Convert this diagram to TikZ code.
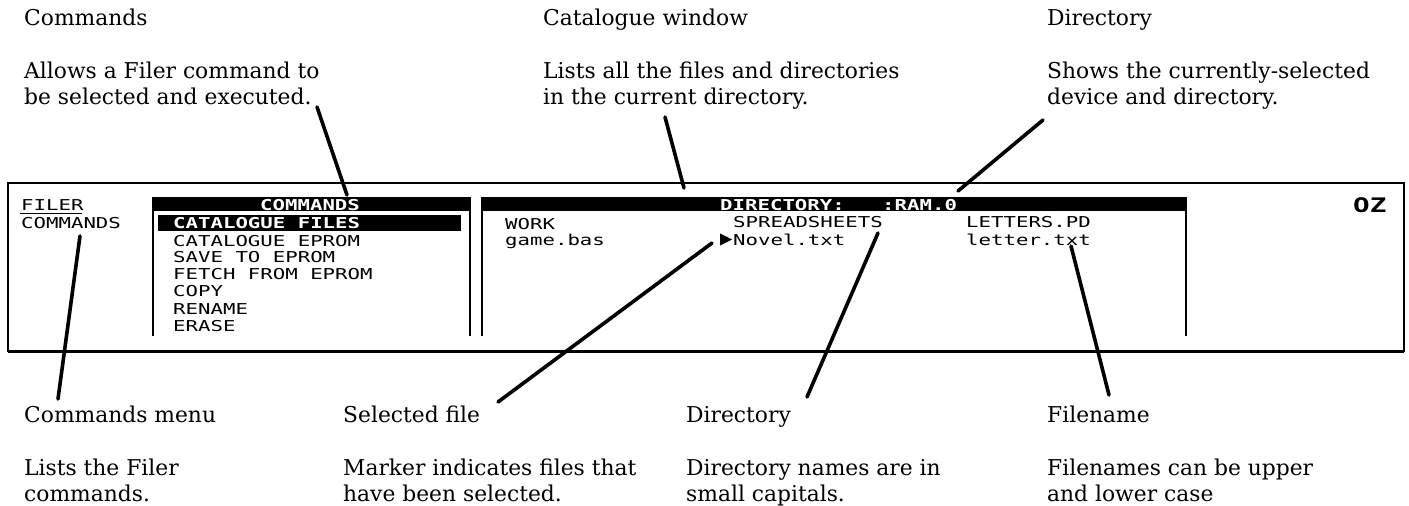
\documentclass[tikz,border=0pt]{standalone}
\usepackage{fontspec}
\setmainfont{DejaVu Serif}
\newfontfamily\scr[FakeStretch=1.38]{DejaVu Sans Mono}
\tikzset{
 captext/.style={anchor=base west,inner sep=0pt,align=left,font=\fontsize{21.8}{26}\selectfont},
 scrtext/.style={anchor=base west,inner sep=0pt,font=\fontsize{15}{15}\selectfont\scr},
 inv/.style={scrtext,text=white,font=\fontsize{15}{15}\selectfont\scr\bfseries},
 leader/.style={line width=3.6pt,line cap=round,black},
 panel/.style={line width=1.6pt,black},
 bar/.style={fill=black,draw=none},
}
\begin{document}
\begin{tikzpicture}[x=1pt,y=-1pt]
\useasboundingbox (0,0) rectangle (1409,506);
\fill[white] (0,0) rectangle (1409,506);
% screen frame
\draw[line width=1.5pt] (8,352) -- (8,183) -- (1404,183) -- (1404,352);
\draw[line width=2.6pt] (8,351.5) -- (1404,351.5);
% Commands menu title
\node[scrtext] (filer) at (21,210) {FILER};
\draw[line width=1.5pt] (20,213.5) -- (82,213.5);
\node[scrtext] (cmenu) at (21,228) {COMMANDS};
% commands panel
\fill[bar] (152,197) rectangle (471,211);
\draw[panel] (153,197) -- (153,336);
\draw[panel] (470,197) -- (470,336);
\fill[bar] (158,215) rectangle (461,231);
\node[inv] (ctitle) at (260,210) {COMMANDS};
\node[inv] (c1) at (173,228) {CATALOGUE FILES};
\node[scrtext] (c2) at (173,246) {CATALOGUE EPROM};
\node[scrtext] (c3) at (173,262) {SAVE TO EPROM};
\node[scrtext] (c4) at (173,279) {FETCH FROM EPROM};
\node[scrtext] (c5) at (173,296) {COPY};
\node[scrtext] (c6) at (173,314) {RENAME};
\node[scrtext] (c7) at (173,331) {ERASE};
% directory panel
\fill[bar] (481,197) rectangle (1187,211);
\draw[panel] (482,197) -- (482,336);
\draw[panel] (1186,197) -- (1186,336);
\node[inv] (dtitle) at (720,210) {DIRECTORY:\ \ \ :RAM.0};
\node[scrtext] (work) at (505,229) {WORK};
\node[scrtext] (sheets) at (733,227) {SPREADSHEETS};
\node[scrtext] (lpd) at (966,227) {LETTERS.PD};
\node[scrtext] (game) at (505,245) {game.bas};
\node[scrtext] (novel) at (733,245) {Novel.txt};
\node[scrtext] (letter) at (966,245) {letter.txt};
\fill (720,233.5) -- (732,239.5) -- (720,245.5) -- cycle;
\node[anchor=base west,inner sep=0pt,font=\fontsize{20}{20}\selectfont\scr\bfseries] (oz) at (1353,212) {OZ};
% captions (a multi-line node's base is its last line)
\node[captext] (t1) at (24,25) {Commands};
\node[captext] (t1b) at (24,104) {Allows a Filer command to\\be selected and executed.};
\node[captext] (t2) at (543,25) {Catalogue window};
\node[captext] (t2b) at (543,104) {Lists all the files and directories\\in the current directory.};
\node[captext] (t3) at (1047,25) {Directory};
\node[captext] (t3b) at (1047,104) {Shows the currently-selected\\device and directory.};
\node[captext] (b1) at (24,422) {Commands menu};
\node[captext] (b1b) at (24,501) {Lists the Filer\\commands.};
\node[captext] (b2) at (343,422) {Selected file};
\node[captext] (b2b) at (343,501) {Marker indicates files that\\have been selected.};
\node[captext] (b3) at (686,422) {Directory};
\node[captext] (b3b) at (686,501) {Directory names are in\\small capitals.};
\node[captext] (b4) at (1047,422) {Filename};
\node[captext] (b4b) at (1047,501) {Filenames can be upper\\and lower case};
% leaders
\coordinate (l1a) at (317,107); \coordinate (l1b) at (347,195);
\coordinate (l2a) at (665,117); \coordinate (l2b) at (684,188);
\coordinate (l3a) at (1043,120); \coordinate (l3b) at (958,191);
\coordinate (l4a) at (80,236); \coordinate (l4b) at (58,399);
\coordinate (l5a) at (712,243); \coordinate (l5b) at (498,402);
\coordinate (l6a) at (878,233); \coordinate (l6b) at (807,397);
\coordinate (l7a) at (1071,246); \coordinate (l7b) at (1109,395);
\draw[leader] (l1a) -- (l1b);
\draw[leader] (l2a) -- (l2b);
\draw[leader] (l3a) -- (l3b);
\draw[leader] (l4a) -- (l4b);
\draw[leader] (l5a) -- (l5b);
\draw[leader] (l6a) -- (l6b);
\draw[leader] (l7a) -- (l7b);
\end{tikzpicture}
\end{document}
